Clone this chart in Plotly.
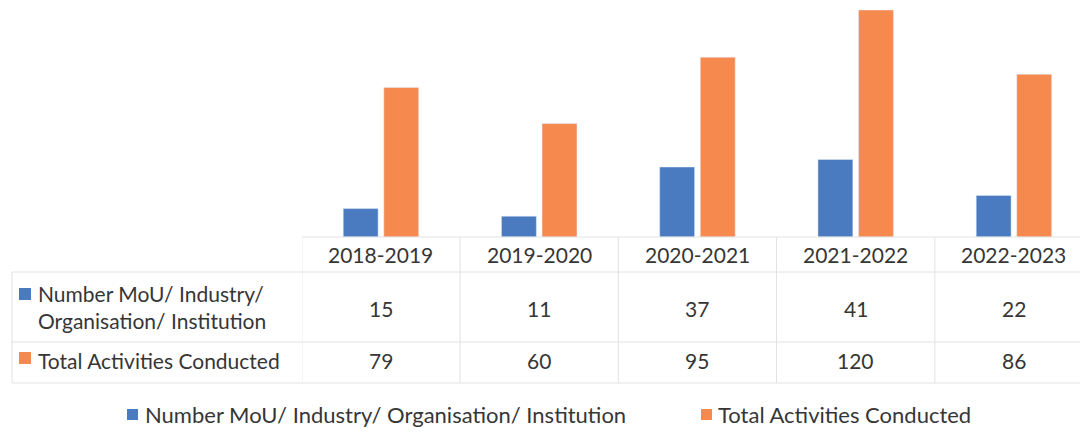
import plotly.graph_objects as go

categories = ["2018-2019", "2019-2020", "2020-2021", "2021-2022", "2022-2023"]
series_names = ["Number MoU/ Industry/ Organisation/ Institution", "Total Activities Conducted"]
row_labels = ["Number MoU/ Industry/<br>Organisation/ Institution", "Total Activities Conducted"]
mou_values = [15, 11, 37, 41, 22]
activity_values = [79, 60, 95, 120, 86]

OFF = 8  # page body margin
W, H = 1088 - OFF, 432 - OFF
BLUE = "#4A7BC0"
ORANGE = "#F5894E"
TEXT = "#363636"
GRID = "#E2E2E2"
FONT = "Lato"
FS = 21
FS_LEG = 22

def px(x):
    return (x - OFF) / W

def py(y):
    return 1 - (y - OFF) / H

xs = list(range(len(categories)))

fig = go.Figure()
fig.add_trace(go.Bar(x=xs, y=mou_values, name=series_names[0], marker_color=BLUE, showlegend=False))
fig.add_trace(go.Bar(x=xs, y=activity_values, name=series_names[1], marker_color=ORANGE, showlegend=False))

shapes = []
annotations = []

# table lines
for b in [i - 0.5 for i in range(len(categories) + 1)]:
    shapes.append(dict(type="line", xref="x", yref="paper", x0=b, x1=b, y0=py(237), y1=py(383),
                       line=dict(color=GRID, width=1)))
for yy, x0 in [(237, 302), (272, 12), (342, 12), (383, 12)]:
    shapes.append(dict(type="line", xref="paper", yref="paper", x0=px(x0), x1=1, y0=py(yy), y1=py(yy),
                       line=dict(color=GRID, width=1)))
shapes.append(dict(type="line", xref="paper", yref="paper", x0=px(12), x1=px(12), y0=py(272), y1=py(383),
                   line=dict(color=GRID, width=1)))

# header
for i, c in enumerate(categories):
    annotations.append(dict(x=i, y=py(255), xref="x", yref="paper", text=c, showarrow=False,
                            font=dict(family=FONT, size=FS, color=TEXT), xanchor="center", yanchor="middle"))
# values
for row_y, vals in [(308, mou_values), (360, activity_values)]:
    for i, v in enumerate(vals):
        annotations.append(dict(x=i, y=py(row_y), xref="x", yref="paper", text=str(v), showarrow=False,
                                font=dict(family=FONT, size=FS, color=TEXT), xanchor="center", yanchor="middle"))

# row labels with keys
for lab, col, ty, sy in [(row_labels[0], BLUE, 307, 294), (row_labels[1], ORANGE, 360, 358)]:
    annotations.append(dict(x=px(36), y=py(ty), xref="paper", yref="paper", text=lab, showarrow=False,
                            font=dict(family=FONT, size=FS, color=TEXT), xanchor="left", yanchor="middle",
                            align="left"))
    shapes.append(dict(type="rect", xref="paper", yref="paper", x0=px(19), x1=px(31), y0=py(sy - 6), y1=py(sy + 6),
                       fillcolor=col, line=dict(width=0)))

# bottom legend
for name, col, sx, tx in [(series_names[0], BLUE, 127, 143), (series_names[1], ORANGE, 701, 716)]:
    shapes.append(dict(type="rect", xref="paper", yref="paper", x0=px(sx), x1=px(sx + 11), y0=py(420), y1=py(409),
                       fillcolor=col, line=dict(width=0)))
    annotations.append(dict(x=px(tx), y=py(414), xref="paper", yref="paper", text=name, showarrow=False,
                            font=dict(family=FONT, size=FS_LEG, color=TEXT), xanchor="left", yanchor="middle"))

fig.update_layout(
    width=W, height=H,
    margin=dict(l=0, r=0, t=0, b=0),
    paper_bgcolor="white", plot_bgcolor="white",
    barmode="group", bargap=0.487, bargroupgap=0.14,
    xaxis=dict(domain=[px(302), 1], range=[-0.499, 4.468], showticklabels=False, showgrid=False,
               zeroline=False, showline=False, fixedrange=True),
    yaxis=dict(domain=[py(237), py(10)], range=[0, 120], showticklabels=False, showgrid=False,
               zeroline=False, showline=False, fixedrange=True),
    shapes=shapes, annotations=annotations,
    showlegend=False,
)

fig.write_html("out.html")
